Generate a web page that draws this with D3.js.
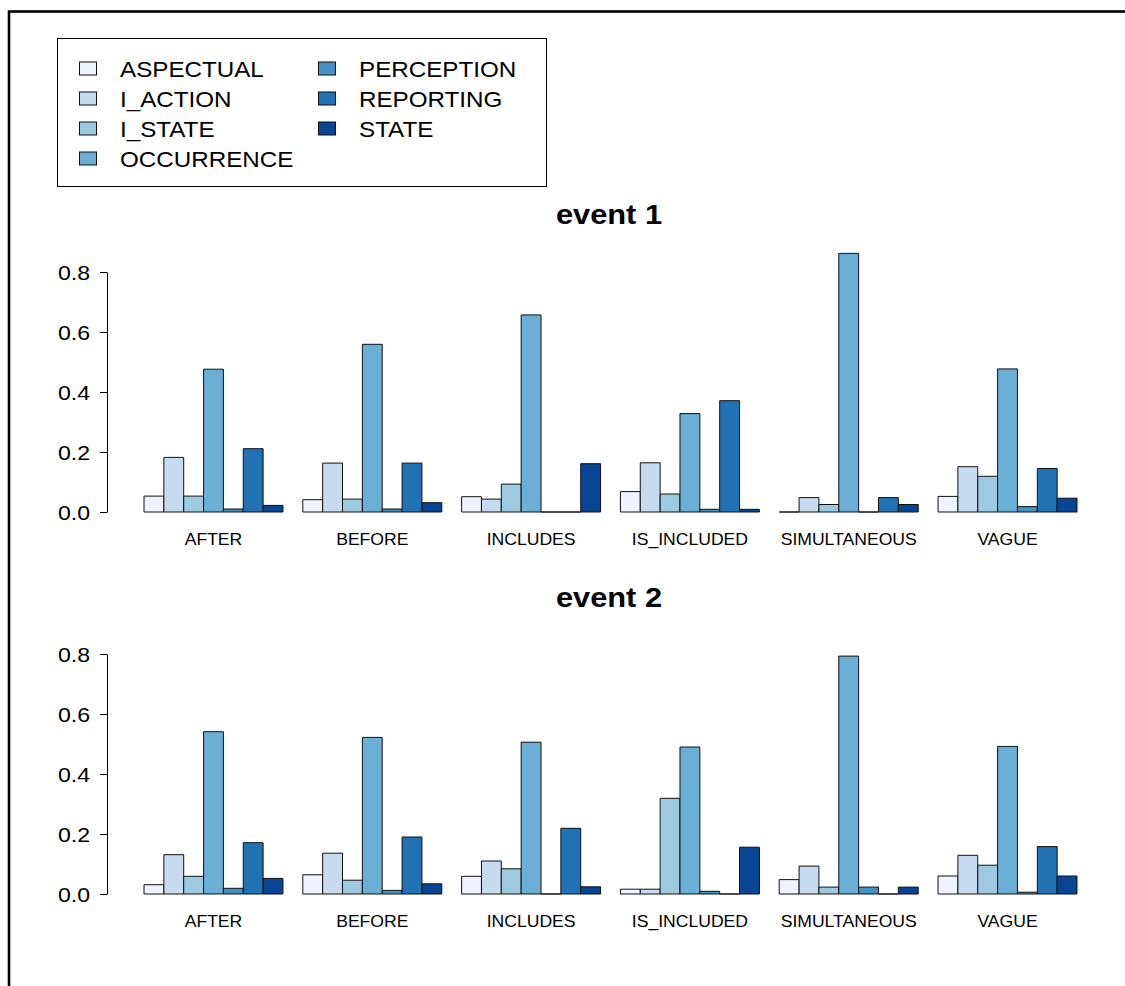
<!DOCTYPE html>
<html>
<head>
<meta charset="utf-8">
<script src="https://cdn.jsdelivr.net/npm/d3@7"></script>
<style>
  body { margin: 0; background: #fff; }
  svg { display: block; }
  text { font-family: "Liberation Sans", Arial, Helvetica, sans-serif; fill: #000; }
</style>
</head>
<body>
<svg id="chart" width="1125" height="986"></svg>
<script>
// Temporal relation categories (x groups) and event classes (bars inside each group)
const relations = ["AFTER", "BEFORE", "INCLUDES", "IS_INCLUDED", "SIMULTANEOUS", "VAGUE"];
const eventClasses = ["ASPECTUAL", "I_ACTION", "I_STATE", "OCCURRENCE", "PERCEPTION", "REPORTING", "STATE"];
const classColors = ["#EFF3FF", "#C6DBEF", "#9ECAE1", "#6BAED6", "#4292C6", "#2171B5", "#084594"];
const yTicks = [0, 0.2, 0.4, 0.6, 0.8];

// Share of each event class per relation; one row per relation, columns follow eventClasses
const event1 = [
  [0.053, 0.182, 0.053, 0.476, 0.010, 0.211, 0.022], // AFTER
  [0.041, 0.163, 0.043, 0.559, 0.010, 0.163, 0.031], // BEFORE
  [0.051, 0.043, 0.093, 0.657, 0.000, 0.000, 0.161], // INCLUDES
  [0.068, 0.164, 0.060, 0.328, 0.009, 0.371, 0.009], // IS_INCLUDED
  [0.000, 0.048, 0.025, 0.862, 0.000, 0.048, 0.025], // SIMULTANEOUS
  [0.052, 0.151, 0.119, 0.477, 0.018, 0.145, 0.046]  // VAGUE
];
const event2 = [
  [0.031, 0.131, 0.059, 0.541, 0.019, 0.171, 0.052], // AFTER
  [0.064, 0.136, 0.046, 0.522, 0.012, 0.190, 0.034], // BEFORE
  [0.059, 0.110, 0.084, 0.506, 0.000, 0.219, 0.024], // INCLUDES
  [0.016, 0.016, 0.319, 0.490, 0.009, 0.000, 0.156], // IS_INCLUDED
  [0.048, 0.093, 0.023, 0.793, 0.023, 0.000, 0.023], // SIMULTANEOUS
  [0.060, 0.129, 0.096, 0.492, 0.006, 0.158, 0.060]  // VAGUE
];

const svg = d3.select("#chart");
const SX = 1.1; // horizontal text stretch

function label(g, x, y, str, size, anchor, weight) {
  return g.append("text")
    .attr("transform", `translate(${x},${y}) scale(${SX},1)`)
    .attr("text-anchor", anchor || "start")
    .attr("font-size", size)
    .attr("font-weight", weight || "normal")
    .text(str);
}

// outer frame
svg.append("rect")
  .attr("x", 9).attr("y", 11.5)
  .attr("width", 1300).attr("height", 1200)
  .attr("fill", "none").attr("stroke", "#000").attr("stroke-width", 2.6);

// shared x layout: groups of 7 bars separated by one bar width
const xGroup = d3.scaleBand().domain(relations).range([144, 1077]).paddingInner(1 / 8).paddingOuter(0);
const xBar = d3.scaleBand().domain(eventClasses).range([0, xGroup.bandwidth()]).padding(0);
const color = d3.scaleOrdinal().domain(eventClasses).range(classColors);

const panels = [
  { title: "event 1", values: event1, top: 272, bottom: 512, titleY: 224, labelY: 545 },
  { title: "event 2", values: event2, top: 654, bottom: 894, titleY: 607, labelY: 927 }
];

panels.forEach(p => {
  const y = d3.scaleLinear().domain([0, 0.8]).range([p.bottom, p.top]);
  const g = svg.append("g");

  label(g, 609, p.titleY, p.title, 28, "middle", "bold");

  // bars drawn as closed paths so zero-height bars still show their outline
  relations.forEach((rel, i) => {
    const grp = g.append("g").attr("transform", `translate(${xGroup(rel)},0)`);
    grp.selectAll("path")
      .data(eventClasses.map((c, j) => ({ cls: c, v: p.values[i][j] })))
      .join("path")
      .attr("d", d => {
        const x0 = xBar(d.cls), x1 = x0 + xBar.bandwidth();
        const y0 = y(0), y1 = y(d.v);
        return `M${x0},${y0}V${y1}H${x1}V${y0}Z`;
      })
      .attr("fill", d => color(d.cls))
      .attr("stroke", "#111")
      .attr("stroke-width", 1);
    label(g, xGroup(rel) + xGroup.bandwidth() / 2, p.labelY, rel, 16, "middle");
  });

  // y axis
  const axis = d3.axisLeft(y).tickValues(yTicks).tickFormat(d3.format(".1f"))
    .tickSize(7).tickSizeOuter(0).tickPadding(10);
  const ag = g.append("g").attr("transform", "translate(107,0)").call(axis);
  ag.attr("font-family", null).attr("font-size", null);
  ag.select(".domain").attr("stroke", "#000").attr("stroke-width", 1);
  ag.selectAll(".tick line").attr("stroke", "#000").attr("stroke-width", 1);
  ag.selectAll(".tick text")
    .attr("font-size", 21)
    .attr("x", -17 / SX)
    .attr("dy", "0.36em")
    .attr("transform", `scale(${SX},1)`);
});

// legend
const lg = svg.append("g");
lg.append("rect")
  .attr("x", 57.5).attr("y", 38.5).attr("width", 489).attr("height", 148)
  .attr("fill", "#fff").attr("stroke", "#000").attr("stroke-width", 1);

const legendCols = [{ sq: 79.5, tx: 120 }, { sq: 318.5, tx: 359 }];
eventClasses.forEach((c, i) => {
  const col = i < 4 ? 0 : 1;
  const row = i < 4 ? i : i - 4;
  const cy = 68.5 + row * 30;
  lg.append("rect")
    .attr("x", legendCols[col].sq).attr("y", cy - 6.5)
    .attr("width", 17).attr("height", 13)
    .attr("fill", color(c)).attr("stroke", "#111").attr("stroke-width", 1);
  label(lg, legendCols[col].tx, cy + 8, c, 22, "start");
});
</script>
</body>
</html>
